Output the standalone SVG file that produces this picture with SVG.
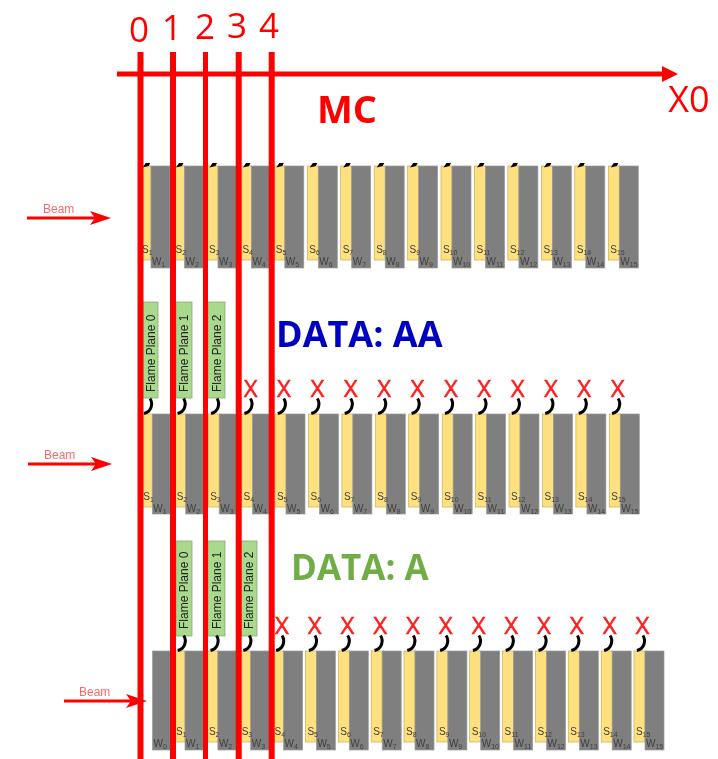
<svg xmlns="http://www.w3.org/2000/svg" xmlns:xlink="http://www.w3.org/1999/xlink" width="718" height="759" viewBox="0 0 718 759">
<style>
.y{fill:#ffe07f;stroke:#c9ad55;stroke-width:.7}
.g{fill:#7f7f7f;stroke:#9a9a9a;stroke-width:.7}
.s,.w{font-family:"Liberation Sans",sans-serif;font-size:10px;fill:#404040}
.sub{font-size:7px}
.p{fill:#a9d98c;stroke:#8aa87a;stroke-width:.8}
.pt{font-family:"Liberation Sans",sans-serif;font-size:12px;fill:#222}
.x{font-family:"Open Sans",sans-serif;font-size:24px;fill:#ff2020;stroke:#ff2020;stroke-width:.5;text-anchor:middle}
.n{font-family:"Open Sans",sans-serif;font-size:35px;fill:#ff0000;text-anchor:middle}
.b{font-family:"Open Sans",sans-serif;font-weight:700}
.beam{font-family:"Liberation Sans",sans-serif;font-size:12px;fill:#ff0000;opacity:.6}
.red{stroke:#ff0000;fill:none}
.sq{fill:none;stroke:#000;stroke-width:3}
</style>
<defs>
<filter id="soft" filterUnits="userSpaceOnUse" x="0" y="0" width="718" height="759"><feGaussianBlur stdDeviation="0.5"/></filter>
<marker id="ah" markerUnits="userSpaceOnUse" markerWidth="24" markerHeight="16" refX="5" refY="8" orient="auto"><path d="M0,1L21,8L0,15L5,8Z" fill="#ff0000"/></marker>
<marker id="ahx" markerUnits="userSpaceOnUse" markerWidth="18" markerHeight="18" refX="2" refY="9" orient="auto"><path d="M0,1L16,9L0,17Z" fill="#ff0000"/></marker>
<path id="sq" class="sq" d="M2,-15C4,-12 4,-9 3,-6C2,-3 0,-1 -4,0"/>
<path id="blob" d="M-4,1.500L-1,-3L3.500,-3L2,0Z" fill="#000"/>
</defs>
<g filter="url(#soft)">
<g id="row1">
<g id="r1-1" transform="translate(151,166)"><rect class="y" x="-11" width="11" height="94"/><rect class="g" width="19" height="102"/><text class="s" x="-9" y="87">S<tspan class="sub" dy="2">1</tspan></text><text class="w" x="1" y="99">W<tspan class="sub" dy="2">1</tspan></text></g>
<g id="r1-2" transform="translate(184.5,166)"><rect class="y" x="-11" width="11" height="94"/><rect class="g" width="19" height="102"/><text class="s" x="-9" y="87">S<tspan class="sub" dy="2">2</tspan></text><text class="w" x="1" y="99">W<tspan class="sub" dy="2">2</tspan></text></g>
<g id="r1-3" transform="translate(218,166)"><rect class="y" x="-11" width="11" height="94"/><rect class="g" width="19" height="102"/><text class="s" x="-9" y="87">S<tspan class="sub" dy="2">3</tspan></text><text class="w" x="1" y="99">W<tspan class="sub" dy="2">3</tspan></text></g>
<g id="r1-4" transform="translate(251.4,166)"><rect class="y" x="-11" width="11" height="94"/><rect class="g" width="19" height="102"/><text class="s" x="-9" y="87">S<tspan class="sub" dy="2">4</tspan></text><text class="w" x="1" y="99">W<tspan class="sub" dy="2">4</tspan></text></g>
<g id="r1-5" transform="translate(284.8,166)"><rect class="y" x="-11" width="11" height="94"/><rect class="g" width="19" height="102"/><text class="s" x="-9" y="87">S<tspan class="sub" dy="2">5</tspan></text><text class="w" x="1" y="99">W<tspan class="sub" dy="2">5</tspan></text></g>
<g id="r1-6" transform="translate(318.3,166)"><rect class="y" x="-11" width="11" height="94"/><rect class="g" width="19" height="102"/><text class="s" x="-9" y="87">S<tspan class="sub" dy="2">6</tspan></text><text class="w" x="1" y="99">W<tspan class="sub" dy="2">6</tspan></text></g>
<g id="r1-7" transform="translate(351.7,166)"><rect class="y" x="-11" width="11" height="94"/><rect class="g" width="19" height="102"/><text class="s" x="-9" y="87">S<tspan class="sub" dy="2">7</tspan></text><text class="w" x="1" y="99">W<tspan class="sub" dy="2">7</tspan></text></g>
<g id="r1-8" transform="translate(385.2,166)"><rect class="y" x="-11" width="11" height="94"/><rect class="g" width="19" height="102"/><text class="s" x="-9" y="87">S<tspan class="sub" dy="2">8</tspan></text><text class="w" x="1" y="99">W<tspan class="sub" dy="2">8</tspan></text></g>
<g id="r1-9" transform="translate(418.6,166)"><rect class="y" x="-11" width="11" height="94"/><rect class="g" width="19" height="102"/><text class="s" x="-9" y="87">S<tspan class="sub" dy="2">9</tspan></text><text class="w" x="1" y="99">W<tspan class="sub" dy="2">9</tspan></text></g>
<g id="r1-10" transform="translate(452,166)"><rect class="y" x="-11" width="11" height="94"/><rect class="g" width="19" height="102"/><text class="s" x="-9" y="87">S<tspan class="sub" dy="2">10</tspan></text><text class="w" x="1" y="99">W<tspan class="sub" dy="2">10</tspan></text></g>
<g id="r1-11" transform="translate(485.5,166)"><rect class="y" x="-11" width="11" height="94"/><rect class="g" width="19" height="102"/><text class="s" x="-9" y="87">S<tspan class="sub" dy="2">11</tspan></text><text class="w" x="1" y="99">W<tspan class="sub" dy="2">11</tspan></text></g>
<g id="r1-12" transform="translate(518.9,166)"><rect class="y" x="-11" width="11" height="94"/><rect class="g" width="19" height="102"/><text class="s" x="-9" y="87">S<tspan class="sub" dy="2">12</tspan></text><text class="w" x="1" y="99">W<tspan class="sub" dy="2">12</tspan></text></g>
<g id="r1-13" transform="translate(552.4,166)"><rect class="y" x="-11" width="11" height="94"/><rect class="g" width="19" height="102"/><text class="s" x="-9" y="87">S<tspan class="sub" dy="2">13</tspan></text><text class="w" x="1" y="99">W<tspan class="sub" dy="2">13</tspan></text></g>
<g id="r1-14" transform="translate(585.8,166)"><rect class="y" x="-11" width="11" height="94"/><rect class="g" width="19" height="102"/><text class="s" x="-9" y="87">S<tspan class="sub" dy="2">14</tspan></text><text class="w" x="1" y="99">W<tspan class="sub" dy="2">14</tspan></text></g>
<g id="r1-15" transform="translate(619.3,166)"><rect class="y" x="-11" width="11" height="94"/><rect class="g" width="19" height="102"/><text class="s" x="-9" y="87">S<tspan class="sub" dy="2">15</tspan></text><text class="w" x="1" y="99">W<tspan class="sub" dy="2">15</tspan></text></g>
</g>
<g id="row2">
<g id="r2-1" transform="translate(152.3,414)"><rect class="y" x="-11" width="11" height="93"/><rect class="g" width="19" height="100"/><text class="s" x="-9" y="86">S<tspan class="sub" dy="2">1</tspan></text><text class="w" x="1" y="98">W<tspan class="sub" dy="2">1</tspan></text></g>
<g id="r2-2" transform="translate(185.7,414)"><rect class="y" x="-11" width="11" height="93"/><rect class="g" width="19" height="100"/><text class="s" x="-9" y="86">S<tspan class="sub" dy="2">2</tspan></text><text class="w" x="1" y="98">W<tspan class="sub" dy="2">2</tspan></text></g>
<g id="r2-3" transform="translate(219.2,414)"><rect class="y" x="-11" width="11" height="93"/><rect class="g" width="19" height="100"/><text class="s" x="-9" y="86">S<tspan class="sub" dy="2">3</tspan></text><text class="w" x="1" y="98">W<tspan class="sub" dy="2">3</tspan></text></g>
<g id="r2-4" transform="translate(252.6,414)"><rect class="y" x="-11" width="11" height="93"/><rect class="g" width="19" height="100"/><text class="s" x="-9" y="86">S<tspan class="sub" dy="2">4</tspan></text><text class="w" x="1" y="98">W<tspan class="sub" dy="2">4</tspan></text></g>
<g id="r2-5" transform="translate(286,414)"><rect class="y" x="-11" width="11" height="93"/><rect class="g" width="19" height="100"/><text class="s" x="-9" y="86">S<tspan class="sub" dy="2">5</tspan></text><text class="w" x="1" y="98">W<tspan class="sub" dy="2">5</tspan></text></g>
<g id="r2-6" transform="translate(319.5,414)"><rect class="y" x="-11" width="11" height="93"/><rect class="g" width="19" height="100"/><text class="s" x="-9" y="86">S<tspan class="sub" dy="2">6</tspan></text><text class="w" x="1" y="98">W<tspan class="sub" dy="2">6</tspan></text></g>
<g id="r2-7" transform="translate(352.9,414)"><rect class="y" x="-11" width="11" height="93"/><rect class="g" width="19" height="100"/><text class="s" x="-9" y="86">S<tspan class="sub" dy="2">7</tspan></text><text class="w" x="1" y="98">W<tspan class="sub" dy="2">7</tspan></text></g>
<g id="r2-8" transform="translate(386.3,414)"><rect class="y" x="-11" width="11" height="93"/><rect class="g" width="19" height="100"/><text class="s" x="-9" y="86">S<tspan class="sub" dy="2">8</tspan></text><text class="w" x="1" y="98">W<tspan class="sub" dy="2">8</tspan></text></g>
<g id="r2-9" transform="translate(419.7,414)"><rect class="y" x="-11" width="11" height="93"/><rect class="g" width="19" height="100"/><text class="s" x="-9" y="86">S<tspan class="sub" dy="2">9</tspan></text><text class="w" x="1" y="98">W<tspan class="sub" dy="2">9</tspan></text></g>
<g id="r2-10" transform="translate(453.2,414)"><rect class="y" x="-11" width="11" height="93"/><rect class="g" width="19" height="100"/><text class="s" x="-9" y="86">S<tspan class="sub" dy="2">10</tspan></text><text class="w" x="1" y="98">W<tspan class="sub" dy="2">10</tspan></text></g>
<g id="r2-11" transform="translate(486.6,414)"><rect class="y" x="-11" width="11" height="93"/><rect class="g" width="19" height="100"/><text class="s" x="-9" y="86">S<tspan class="sub" dy="2">11</tspan></text><text class="w" x="1" y="98">W<tspan class="sub" dy="2">11</tspan></text></g>
<g id="r2-12" transform="translate(520,414)"><rect class="y" x="-11" width="11" height="93"/><rect class="g" width="19" height="100"/><text class="s" x="-9" y="86">S<tspan class="sub" dy="2">12</tspan></text><text class="w" x="1" y="98">W<tspan class="sub" dy="2">12</tspan></text></g>
<g id="r2-13" transform="translate(553.5,414)"><rect class="y" x="-11" width="11" height="93"/><rect class="g" width="19" height="100"/><text class="s" x="-9" y="86">S<tspan class="sub" dy="2">13</tspan></text><text class="w" x="1" y="98">W<tspan class="sub" dy="2">13</tspan></text></g>
<g id="r2-14" transform="translate(586.9,414)"><rect class="y" x="-11" width="11" height="93"/><rect class="g" width="19" height="100"/><text class="s" x="-9" y="86">S<tspan class="sub" dy="2">14</tspan></text><text class="w" x="1" y="98">W<tspan class="sub" dy="2">14</tspan></text></g>
<g id="r2-15" transform="translate(620.3,414)"><rect class="y" x="-11" width="11" height="93"/><rect class="g" width="19" height="100"/><text class="s" x="-9" y="86">S<tspan class="sub" dy="2">15</tspan></text><text class="w" x="1" y="98">W<tspan class="sub" dy="2">15</tspan></text></g>
</g>
<g id="row3">
<g id="r3-0" transform="translate(152.5,651)"><rect class="g" width="22" height="99"/><text class="w" x="1" y="96">W<tspan class="sub" dy="2">0</tspan></text></g>
<g id="r3-1" transform="translate(185,651)"><rect class="y" x="-11" width="11" height="91"/><rect class="g" width="19" height="99"/><text class="s" x="-9" y="84">S<tspan class="sub" dy="2">1</tspan></text><text class="w" x="1" y="96">W<tspan class="sub" dy="2">1</tspan></text></g>
<g id="r3-2" transform="translate(217.9,651)"><rect class="y" x="-11" width="11" height="91"/><rect class="g" width="19" height="99"/><text class="s" x="-9" y="84">S<tspan class="sub" dy="2">2</tspan></text><text class="w" x="1" y="96">W<tspan class="sub" dy="2">2</tspan></text></g>
<g id="r3-3" transform="translate(250.7,651)"><rect class="y" x="-11" width="11" height="91"/><rect class="g" width="19" height="99"/><text class="s" x="-9" y="84">S<tspan class="sub" dy="2">3</tspan></text><text class="w" x="1" y="96">W<tspan class="sub" dy="2">3</tspan></text></g>
<g id="r3-4" transform="translate(283.6,651)"><rect class="y" x="-11" width="11" height="91"/><rect class="g" width="19" height="99"/><text class="s" x="-9" y="84">S<tspan class="sub" dy="2">4</tspan></text><text class="w" x="1" y="96">W<tspan class="sub" dy="2">4</tspan></text></g>
<g id="r3-5" transform="translate(316.4,651)"><rect class="y" x="-11" width="11" height="91"/><rect class="g" width="19" height="99"/><text class="s" x="-9" y="84">S<tspan class="sub" dy="2">5</tspan></text><text class="w" x="1" y="96">W<tspan class="sub" dy="2">5</tspan></text></g>
<g id="r3-6" transform="translate(349.3,651)"><rect class="y" x="-11" width="11" height="91"/><rect class="g" width="19" height="99"/><text class="s" x="-9" y="84">S<tspan class="sub" dy="2">6</tspan></text><text class="w" x="1" y="96">W<tspan class="sub" dy="2">6</tspan></text></g>
<g id="r3-7" transform="translate(382.2,651)"><rect class="y" x="-11" width="11" height="91"/><rect class="g" width="19" height="99"/><text class="s" x="-9" y="84">S<tspan class="sub" dy="2">7</tspan></text><text class="w" x="1" y="96">W<tspan class="sub" dy="2">7</tspan></text></g>
<g id="r3-8" transform="translate(415,651)"><rect class="y" x="-11" width="11" height="91"/><rect class="g" width="19" height="99"/><text class="s" x="-9" y="84">S<tspan class="sub" dy="2">8</tspan></text><text class="w" x="1" y="96">W<tspan class="sub" dy="2">8</tspan></text></g>
<g id="r3-9" transform="translate(447.9,651)"><rect class="y" x="-11" width="11" height="91"/><rect class="g" width="19" height="99"/><text class="s" x="-9" y="84">S<tspan class="sub" dy="2">9</tspan></text><text class="w" x="1" y="96">W<tspan class="sub" dy="2">9</tspan></text></g>
<g id="r3-10" transform="translate(480.7,651)"><rect class="y" x="-11" width="11" height="91"/><rect class="g" width="19" height="99"/><text class="s" x="-9" y="84">S<tspan class="sub" dy="2">10</tspan></text><text class="w" x="1" y="96">W<tspan class="sub" dy="2">10</tspan></text></g>
<g id="r3-11" transform="translate(513.6,651)"><rect class="y" x="-11" width="11" height="91"/><rect class="g" width="19" height="99"/><text class="s" x="-9" y="84">S<tspan class="sub" dy="2">11</tspan></text><text class="w" x="1" y="96">W<tspan class="sub" dy="2">11</tspan></text></g>
<g id="r3-12" transform="translate(546.5,651)"><rect class="y" x="-11" width="11" height="91"/><rect class="g" width="19" height="99"/><text class="s" x="-9" y="84">S<tspan class="sub" dy="2">12</tspan></text><text class="w" x="1" y="96">W<tspan class="sub" dy="2">12</tspan></text></g>
<g id="r3-13" transform="translate(579.3,651)"><rect class="y" x="-11" width="11" height="91"/><rect class="g" width="19" height="99"/><text class="s" x="-9" y="84">S<tspan class="sub" dy="2">13</tspan></text><text class="w" x="1" y="96">W<tspan class="sub" dy="2">13</tspan></text></g>
<g id="r3-14" transform="translate(612.2,651)"><rect class="y" x="-11" width="11" height="91"/><rect class="g" width="19" height="99"/><text class="s" x="-9" y="84">S<tspan class="sub" dy="2">14</tspan></text><text class="w" x="1" y="96">W<tspan class="sub" dy="2">14</tspan></text></g>
<g id="r3-15" transform="translate(645,651)"><rect class="y" x="-11" width="11" height="91"/><rect class="g" width="19" height="99"/><text class="s" x="-9" y="84">S<tspan class="sub" dy="2">15</tspan></text><text class="w" x="1" y="96">W<tspan class="sub" dy="2">15</tspan></text></g>
</g>
<g id="planes">
<g id="fp2-0"><rect class="p" x="142" y="302" width="16" height="96"/><text class="pt" transform="translate(154.500,392) rotate(-90)">Flame Plane 0</text></g>
<g id="fp2-1"><rect class="p" x="176" y="302" width="16" height="96"/><text class="pt" transform="translate(188,392) rotate(-90)">Flame Plane 1</text></g>
<g id="fp2-2"><rect class="p" x="208" y="302" width="17" height="96"/><text class="pt" transform="translate(221,392) rotate(-90)">Flame Plane 2</text></g>
<g id="fp3-0"><rect class="p" x="176" y="541" width="16" height="95"/><text class="pt" transform="translate(188,629) rotate(-90)">Flame Plane 0</text></g>
<g id="fp3-1"><rect class="p" x="208" y="541" width="17" height="95"/><text class="pt" transform="translate(221,629) rotate(-90)">Flame Plane 1</text></g>
<g id="fp3-2"><rect class="p" x="241" y="541" width="16" height="95"/><text class="pt" transform="translate(253,629) rotate(-90)">Flame Plane 2</text></g>
</g>
<g id="marks">
<text class="x" x="250.7" y="397">X</text><text class="x" x="284" y="397">X</text><text class="x" x="317.4" y="397">X</text><text class="x" x="350.8" y="397">X</text><text class="x" x="384.1" y="397">X</text><text class="x" x="417.5" y="397">X</text><text class="x" x="450.9" y="397">X</text><text class="x" x="484.2" y="397">X</text><text class="x" x="517.6" y="397">X</text><text class="x" x="551" y="397">X</text><text class="x" x="584.3" y="397">X</text><text class="x" x="617.7" y="397">X</text>
<text class="x" x="282" y="634">X</text><text class="x" x="314.8" y="634">X</text><text class="x" x="347.5" y="634">X</text><text class="x" x="380.3" y="634">X</text><text class="x" x="413" y="634">X</text><text class="x" x="445.8" y="634">X</text><text class="x" x="478.6" y="634">X</text><text class="x" x="511.3" y="634">X</text><text class="x" x="544" y="634">X</text><text class="x" x="576.8" y="634">X</text><text class="x" x="609.6" y="634">X</text><text class="x" x="642.5" y="634">X</text>
</g>
<g id="titles">
<text class="b" x="317" y="123" font-size="38" fill="#ff0000">MC</text>
<text class="b" x="276" y="347" font-size="36" fill="#0000c0">DATA: AA</text>
<text class="b" x="291" y="580" font-size="35" fill="#70ad47">DATA: A</text>
<text class="n" x="139" y="42">0</text><text class="n" x="172" y="40">1</text><text class="n" x="205" y="39">2</text><text class="n" x="237" y="38">3</text><text class="n" x="269" y="38">4</text>
<text class="n" x="689" y="112" style="font-size:36px">X0</text>
<text class="beam" x="43" y="213">Beam</text><text class="beam" x="44" y="459">Beam</text><text class="beam" x="79" y="696">Beam</text>
</g>
<g id="connectors">
<use xlink:href="#blob" x="146.7" y="166"/><use xlink:href="#blob" x="180" y="166"/><use xlink:href="#blob" x="213.5" y="166"/><use xlink:href="#blob" x="247" y="166"/><use xlink:href="#blob" x="280.3" y="166"/><use xlink:href="#blob" x="313.8" y="166"/><use xlink:href="#blob" x="347.2" y="166"/><use xlink:href="#blob" x="380.7" y="166"/><use xlink:href="#blob" x="414.1" y="166"/><use xlink:href="#blob" x="447.5" y="166"/><use xlink:href="#blob" x="481" y="166"/><use xlink:href="#blob" x="514.4" y="166"/><use xlink:href="#blob" x="547.9" y="166"/><use xlink:href="#blob" x="581.3" y="166"/><use xlink:href="#blob" x="614.8" y="166"/>
<use xlink:href="#sq" x="148" y="413.500"/><use xlink:href="#sq" x="181.6" y="413.500"/><use xlink:href="#sq" x="215" y="413.500"/><use xlink:href="#sq" x="248.4" y="413.500"/><use xlink:href="#sq" x="281.8" y="413.500"/><use xlink:href="#sq" x="315.3" y="413.500"/><use xlink:href="#sq" x="348.7" y="413.500"/><use xlink:href="#sq" x="382.1" y="413.500"/><use xlink:href="#sq" x="415.6" y="413.500"/><use xlink:href="#sq" x="449" y="413.500"/><use xlink:href="#sq" x="482.4" y="413.500"/><use xlink:href="#sq" x="515.8" y="413.500"/><use xlink:href="#sq" x="549.3" y="413.500"/><use xlink:href="#sq" x="582.7" y="413.500"/><use xlink:href="#sq" x="616.1" y="413.500"/>
<use xlink:href="#sq" x="181.7" y="650.500"/><use xlink:href="#sq" x="214.5" y="650.500"/><use xlink:href="#sq" x="247.3" y="650.500"/><use xlink:href="#sq" x="280.1" y="650.500"/><use xlink:href="#sq" x="312.9" y="650.500"/><use xlink:href="#sq" x="345.7" y="650.500"/><use xlink:href="#sq" x="378.5" y="650.500"/><use xlink:href="#sq" x="411.3" y="650.500"/><use xlink:href="#sq" x="444.1" y="650.500"/><use xlink:href="#sq" x="476.9" y="650.500"/><use xlink:href="#sq" x="509.7" y="650.500"/><use xlink:href="#sq" x="542.5" y="650.500"/><use xlink:href="#sq" x="575.3" y="650.500"/><use xlink:href="#sq" x="608.1" y="650.500"/><use xlink:href="#sq" x="640.9" y="650.500"/>
<path class="red" stroke-width="5" d="M117,74H664" marker-end="url(#ahx)"/>
<path class="red" stroke-width="6" d="M140.500,52V759M173,52V759M238.700,52V759M271.700,52V759"/>
<path class="red" stroke-width="5" d="M205.500,52V759"/>
<path class="red" stroke-width="3" d="M27,218H95" marker-end="url(#ah)"/>
<path class="red" stroke-width="3" d="M28,464H96" marker-end="url(#ah)"/>
<path class="red" stroke-width="3" d="M64,701H131" marker-end="url(#ah)"/>
</g>
</g>
</svg>
